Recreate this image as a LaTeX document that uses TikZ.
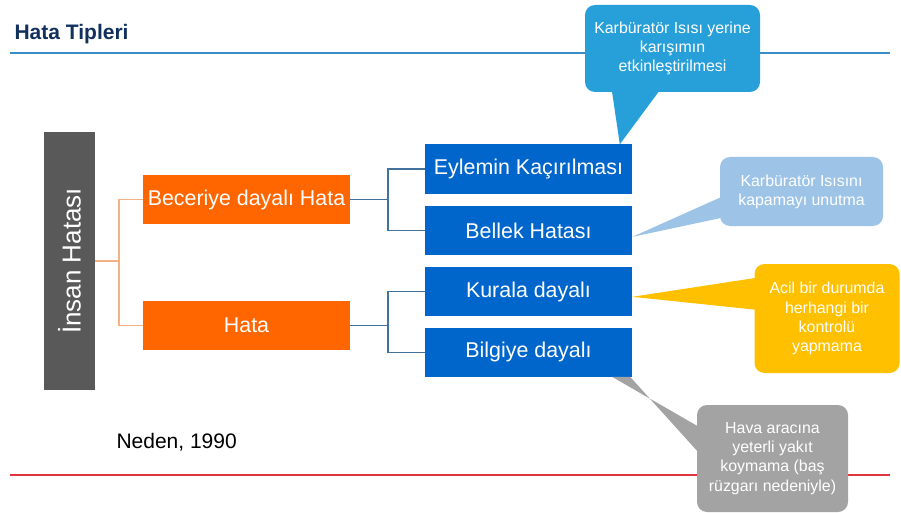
\documentclass[tikz,border=0pt]{standalone}
\usepackage{fontspec}
\setmainfont{Liberation Sans}
\usetikzlibrary{positioning,calc}
\definecolor{titlecolor}{HTML}{12305E}
\definecolor{topline}{HTML}{3A8DC4}
\definecolor{redline}{HTML}{E2343B}
\definecolor{insgray}{HTML}{595959}
\definecolor{boxorange}{HTML}{FF6600}
\definecolor{boxblue}{HTML}{0066CC}
\definecolor{lineorange}{HTML}{F4B183}
\definecolor{lineblue}{HTML}{41719C}
\definecolor{calblue}{HTML}{27A0DA}
\definecolor{callight}{HTML}{9DC3E6}
\definecolor{calyellow}{HTML}{FFC000}
\definecolor{calgray}{HTML}{A3A3A3}

\begin{document}
\begin{tikzpicture}[x=1pt, y=-1pt,
  box/.style={minimum width=207pt, minimum height=49pt, inner sep=0pt,
              text=white, font=\fontsize{21.4}{24}\selectfont},
  bluebox/.style={box, fill=boxblue},
  orangebox/.style={box, fill=boxorange},
  bubble/.style={rounded corners=10pt, text=white, align=center, inner sep=0pt,
                 font=\fontsize{15.9}{19.2}\selectfont},
  orangeline/.style={draw=lineorange, line width=1.3pt},
  blueline/.style={draw=lineblue, line width=1.3pt}]
  \useasboundingbox (0,0) rectangle (901,513);
  % Title and rules
  \node[anchor=west, text=titlecolor, font=\bfseries\fontsize{21}{24}\selectfont] (title) at (11,34) {Hata Tipleri};
  \draw[topline, line width=1.5pt] (10,53) -- (890,53);
  \draw[redline, line width=1.2pt] (10,475) -- (890,475);
  % Tree
  \node[fill=insgray, minimum width=258pt, minimum height=51pt, inner sep=0pt, rotate=90,
        text=white, font=\fontsize{26}{30}\selectfont] (insan) at (69.5,261) {İnsan Hatası};
  \node[orangebox] (beceri) at (246.5,199.5) {Beceriye dayalı Hata};
  \node[orangebox] (hata)   at (246.5,325.5) {Hata};
  \node[bluebox] (eylem)  at (528.5,169) {Eylemin Kaçırılması};
  \node[bluebox, below=12pt of eylem]  (bellek) {Bellek Hatası};
  \node[bluebox, below=12pt of bellek] (kural)  {Kurala dayalı};
  \node[bluebox, below=11pt of kural]  (bilgi)  {Bilgiye dayalı};
  % Connectors
  \coordinate (osplit) at (119,261);
  \draw[orangeline] (insan.south) -- (osplit) |- (beceri.west);
  \draw[orangeline] (osplit) |- (hata.west);
  \coordinate (bsplit) at (388,199.5);
  \draw[blueline] (beceri.east) -- (bsplit) |- (eylem.west);
  \draw[blueline] (bsplit) |- (bellek.west);
  \coordinate (hsplit) at (388,325.5);
  \draw[blueline] (hata.east) -- (hsplit) |- (kural.west);
  \draw[blueline] (hsplit) |- (bilgi.west);
  % Callouts
  \node[bubble, fill=calblue, minimum width=175pt, minimum height=87pt] (karisim) at (672.5,48.5)
    {Karbüratör Isısı yerine\\karışımın\\etkinleştirilmesi};
  \fill[calblue] ($(karisim.south west)+(27,-2)$) -- ($(eylem.north west)+(195,0)$)
    -- ($(karisim.south west)+(75,-2)$) -- cycle;
  \node[bubble, fill=callight, minimum width=163pt, minimum height=69pt] (kapama) at (801.5,191.5)
    {Karbüratör Isısını\\kapamayı unutma};
  \fill[callight] ($(kapama.north west)+(2,40)$) -- ($(bellek.east)+(0,6.5)$)
    -- ($(kapama.north west)+(2,61)$) -- cycle;
  \node[bubble, fill=calyellow, minimum width=145pt, minimum height=109pt] (acil) at (827,318.5)
    {Acil bir durumda\\herhangi bir\\kontrolü\\yapmama};
  \fill[calyellow] ($(acil.north west)+(2,14)$) -- ($(kural.east)+(0,5)$)
    -- ($(acil.north west)+(2,46)$) -- cycle;
  \node[bubble, fill=calgray, minimum width=151pt, minimum height=107pt] (yakit) at (772.5,458.5)
    {Hava aracına\\yeterli yakıt\\koymama (baş\\rüzgarı nedeniyle)};
  \fill[calgray] ($(bilgi.south east)+(-20,0)$) -- ($(bilgi.south east)+(-2,0)$)
    -- ($(yakit.north west)+(2,48)$) -- ($(yakit.north west)+(2,22)$) -- cycle;
  % Source
  \node[anchor=west, font=\fontsize{21}{24}\selectfont] (kaynak) at (113,442) {Neden, 1990};
\end{tikzpicture}
\end{document}
